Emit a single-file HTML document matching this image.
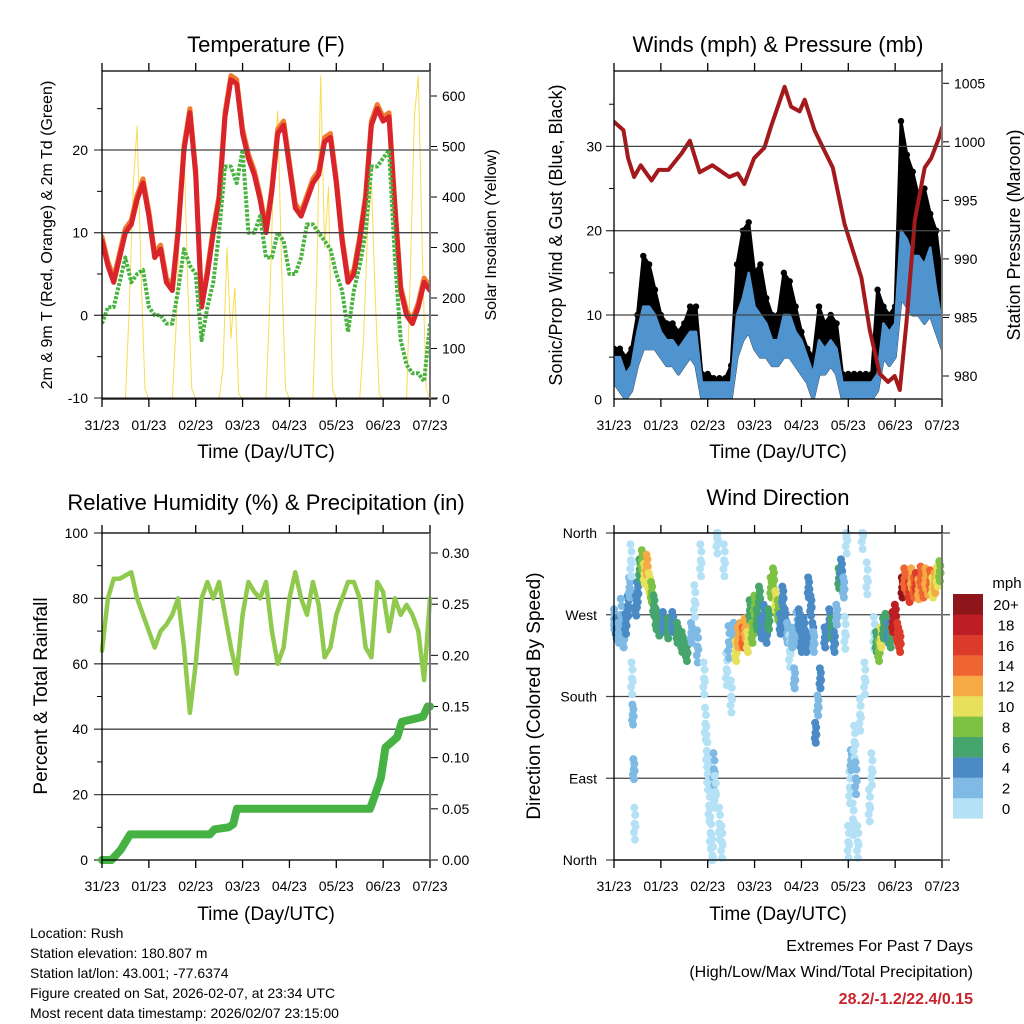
<!DOCTYPE html>
<html><head><meta charset="utf-8"><style>
html,body{margin:0;padding:0;background:#fff}
svg{display:block;font-family:"Liberation Sans",Arial,sans-serif}
</style></head><body>
<svg id="s" width="1024" height="1024" viewBox="0 0 1024 1024"></svg>
<script>
// ---------- DATA ----------
const days = ['31/23','01/23','02/23','03/23','04/23','05/23','06/23','07/23'];
const tempT = [9,6,4,7,10,11,14,16, 12,7,8,4,3,10,20,24.5, 17,1,5,10,14,24,28.5,28, 22,19,17,14,10,15,22,23, 18,13,12,14,16,17,21,21.5, 16,9,4,5,9,14,23,25, 23.5,24,13,3,0,-1,1,4, 3];
const tempTd = [-1,1,1,4,7,4,5,5.5, 1,0,0,-1,-1,3,8,6, 5,-3,1,4,10,18,18,16, 20,10,10,12,7,7,10,9, 5,5,7,11,11,10,9,8, 5,3,-2,3,6,10,18,18, 19,20,7,-3,-6,-7,-7,-8, -1];
const solar = [0,0,0,0,0,0,0,180,420,540,250,20, 0,0,0,0,0,0,0,150,380,500,220,20, 0,0,0,0,0,0,0,60,300,120,220,10, 0,0,0,0,0,0,0,200,470,570,260,20, 0,0,0,0,0,0,0,250,640,300,420,20, 0,0,0,0,0,0,0,120,330,430,200,10, 0,0,0,0,0,0,0,260,560,640,300,20, 0];
const windHi = [5,5,3,4,8,11,11,10, 8,7,7,6,7,8,8,2, 2,2,2,2,2,10,12,15, 11,10,9,7,7,10,10,8, 7,5,3,7,6,7,6,2, 2,2,2,2,2,3,9,8, 9,20,19,17,17,16,18,13, 9];
const windLo = [2,1,0,1,4,6,6,6, 5,4,4,3,4,5,4,0, 0,0,0,0,0,5,7,8, 6,5,5,4,4,5,5,4, 3,2,0,3,3,4,3,0, 0,0,0,0,0,1,5,4, 5,12,11,10,10,9,10,8, 6];
const gust = [6,6,5,6,10,17,16,13, 10,9,9,8,9,11,11,3, 3,2.5,2.5,2.5,4,16,20,21, 15,16,12,10,10,15,14,11, 8,6,5,11,9,10,9,3, 3,3,3,3,3,13,11,10, 11,33,29,27,24,25,22,20, 14];
const presT = [0,0.2,0.3,0.43,0.57,0.8,0.95,1.16,1.44,1.62,1.83,2.1,2.46,2.64,2.78,2.99,3.21,3.35,3.64,3.78,3.96,4.07,4.28,4.46,4.67,4.92,5.28,5.46,5.67,5.85,5.99,6.1,6.24,6.42,6.63,6.77,6.95,7.0];
const presV = [1001.7,1001,998.6,997,998,996.7,997.6,997.6,999,1000.1,997.4,998,997,997.3,996.4,998.6,999.5,1001.3,1004.7,1003,1002.6,1003.6,1001,999.5,997.8,993,988.4,983.9,980.2,979.5,980,978.8,984.5,993.3,997.8,998.6,1000.5,1001.2];
const rh = [64,80,86,86,87,88,80,75, 70,65,70,72,75,80,65,45, 60,80,85,80,85,75,65,57, 75,85,82,80,85,70,60,65, 80,88,80,75,85,78,62,65, 75,80,85,85,80,65,62,85, 82,70,80,75,78,75,70,55, 80];
const rainT = [0,0.2,0.3,0.4,0.6,2.3,2.4,2.7,2.8,2.88,5.72,5.8,5.95,6.05,6.3,6.4,6.85,6.95,7.0];
const rainV = [0,0,0.005,0.01,0.025,0.025,0.03,0.032,0.035,0.05,0.05,0.06,0.08,0.11,0.12,0.135,0.14,0.15,0.15];
const dirT = [0,0.05,0.1,0.15,0.2,0.25,0.3,0.33,0.36,0.38,0.4,0.42,0.44,0.47,0.5,0.55,0.6,0.65,0.7,0.75,0.8,0.85,0.9,0.96,1.05,1.15,1.25,1.35,1.45,1.55,1.65,1.72,1.78,1.85,1.92,1.95,1.98,2.0,2.03,2.06,2.1,2.13,2.16,2.2,2.25,2.3,2.35,2.4,2.45,2.5,2.56,2.6,2.65,2.7,2.75,2.8,2.85,2.9,2.95,3.0,3.05,3.1,3.15,3.2,3.25,3.3,3.35,3.4,3.45,3.5,3.55,3.6,3.65,3.7,3.75,3.8,3.85,3.9,3.95,4.0,4.05,4.1,4.15,4.2,4.24,4.26,4.3,4.35,4.4,4.5,4.6,4.65,4.7,4.75,4.8,4.85,4.9,4.93,4.96,5.0,5.03,5.06,5.1,5.13,5.16,5.2,5.25,5.3,5.35,5.4,5.45,5.5,5.55,5.6,5.65,5.7,5.75,5.8,5.85,5.9,5.95,6.0,6.05,6.1,6.15,6.2,6.25,6.3,6.35,6.4,6.45,6.5,6.55,6.6,6.65,6.7,6.75,6.8,6.85,6.9,6.95,7.0];
const dirD = [265,255,250,270,245,260,280,300,330,200,160,100,40,280,295,320,330,315,325,305,295,280,265,258,262,255,262,250,240,230,250,285,235,330,200,150,120,95,60,30,5,100,75,355,40,20,330,210,240,180,250,230,245,250,245,255,240,275,250,280,265,290,255,270,250,265,300,310,285,275,260,290,265,250,230,245,200,255,265,240,255,240,300,280,250,240,140,170,200,245,265,255,240,270,310,320,300,250,355,20,80,110,45,130,90,20,160,360,200,310,60,100,250,240,230,245,255,260,250,245,262,270,250,240,300,310,305,295,310,300,305,298,312,300,310,303,308,300,305,312,318];
const dirS = [3,4,3,2,3,4,4,3,1,1,3,3,1,5,4,6,9,10,12,10,8,7,6,6,5,6,4,6,7,6,3,1,2,1,1,1,1,1,1,1,1,2,1,1,1,1,1,1,2,1,3,11,13,12,14,13,10,6,8,9,7,6,4,5,4,7,8,9,10,8,5,4,4,3,1,3,3,2,4,5,4,4,5,5,4,3,4,3,4,5,4,6,5,3,6,5,3,1,1,1,1,3,1,1,2,1,1,1,1,1,1,1,1,7,8,10,6,7,5,6,19,18,17,16,20,15,14,17,13,15,16,13,14,15,12,13,14,11,12,10,9];
const spdBins = ['0','2','4','6','8','10','12','14','16','18','20+'];
const spdColors = ['#b5e1f6','#7fbae4','#4a8bc6','#45a56c','#7dc243','#e7e05a','#f6aa45','#ef6531','#dc3a2a','#bd1e25','#8e1519'];

// ---------- HELPERS ----------
const NS='http://www.w3.org/2000/svg', S=document.getElementById('s');
function el(tag, attrs, parent){const e=document.createElementNS(NS,tag);for(const k in attrs)e.setAttribute(k,attrs[k]);(parent||S).appendChild(e);return e;}
function txt(s,x,y,size,anchor,name,extra){const t=el('text',Object.assign({x:x,y:y,'font-size':size,'text-anchor':anchor||'middle',fill:'#000'},extra||{}));t.textContent=s;


return t;}
function lin(d0,d1,r0,r1){return v=>r0+(v-d0)/(d1-d0)*(r1-r0);}
const defs=el('defs',{});
function clipG(id,x0,y0,x1,y1){const cp=el('clipPath',{id:id},defs);el('rect',{x:x0,y:y0,width:x1-x0,height:y1-y0},cp);
const g=el('g',{'clip-path':'url(#'+id+')'});


return g;}
function poly(pts,stroke,w,name,extra,parent){const p=el('polyline',Object.assign({points:pts.map(p=>p[0].toFixed(1)+','+p[1].toFixed(1)).join(' '),fill:'none',stroke:stroke,'stroke-width':w,'stroke-linejoin':'round','stroke-linecap':'round'},extra||{}),parent);


return p;}
function frame(x0,y0,x1,y1,name){
  const xs=lin(0,7,x0,x1);
  for(let i=0;i<8;i++){const X=xs(i);
    el('line',{x1:X,y1:y0-8,x2:X,y2:y0,stroke:'#000','stroke-width':1.3});
    el('line',{x1:X,y1:y1,x2:X,y2:y1+8,stroke:'#000','stroke-width':1.3});
    txt(days[i],X,y1+31,14,'middle',name+'-x-tick-'+i);
  }
  const r=el('rect',{x:x0,y:y0,width:x1-x0,height:y1-y0,fill:'none',stroke:'#000','stroke-width':1.3});
  
  
  el('line',{x1:x1,y1:y0,x2:x1,y2:y1,stroke:'#777','stroke-width':2});
}
function grid(x0,x1,Y,name){const g=el('line',{x1:x0-8,y1:Y,x2:x1+8,y2:Y,stroke:'#444','stroke-width':1.3});

}
const tstep=i=>i*0.125;

// ---------- PANEL 1 ----------
(function(){
  const x0=102,x1=430,y0=71,y1=399;
  const X=lin(0,7,x0,x1), Y=lin(-10,20,398,150), YS=lin(0,600,399,96);
  const G=clipG('temp-clip',x0,y0,x1,y1);
  txt('Temperature (F)',266,52,22,'middle','temperature-title');
  [-10,0,10,20].forEach(v=>{grid(x0,x1,Y(v),'temp-grid-'+v);txt(String(v),x0-14,Y(v)+5,14,'end','temp-y-tick-'+v);});
  [-5,5,15,25].forEach(v=>el('line',{x1:x0-5,y1:Y(v),x2:x0,y2:Y(v),stroke:'#000'}));
  [0,100,200,300,400,500,600].forEach(v=>{el('line',{x1:x1,y1:YS(v),x2:x1+7,y2:YS(v),stroke:'#000'});txt(String(v),x1+12,YS(v)+5,14,'start','solar-y-tick-'+v);});
  poly(solar.map((v,i)=>[X(i/12),YS(v)]),'#f7dc52',1,'solar-line',{},G);
  poly(tempT.map((v,i)=>[X(tstep(i)),Y(v+0.5)]),'#f07b2e',5,'temp-9m-line',{},G);
  poly(tempT.map((v,i)=>[X(tstep(i)),Y(v)]),'#d8242a',5,'temp-2m-line',{},G);
  poly(tempTd.map((v,i)=>[X(tstep(i)),Y(v)]),'#49b340',4,'dewpoint-line',{'stroke-dasharray':'3 1.5','stroke-linecap':'butt'},G);
  frame(x0,y0,x1,y1,'temp');
  txt('Time (Day/UTC)',266,458,19,'middle','temp-x-title');
  txt('2m & 9m T (Red, Orange) & 2m Td (Green)',0,0,16,'middle','temp-y-title',{transform:'translate(52,235) rotate(-90)'});
  txt('Solar Insolation (Yellow)',0,0,16,'middle','solar-y-title',{transform:'translate(496,235) rotate(-90)'});
})();

// ---------- PANEL 2 ----------
(function(){
  const x0=614,x1=942,y0=71,y1=399;
  const X=lin(0,7,x0,x1), Y=lin(0,10,399.3,315), YP=lin(980,1005,376,83.3);
  const G=clipG('wind-clip',x0,y0-6,x1,y1);
  txt('Winds (mph) & Pressure (mb)',778,52,22,'middle','winds-title');
  [0,10,20,30].forEach(v=>{if(v>0)grid(x0,x1,Y(v),'wind-grid-'+v);txt(String(v),x0-12,Y(v)+5,14,'end','wind-y-tick-'+v);});
  [5,15,25,35].forEach(v=>el('line',{x1:x0-5,y1:Y(v),x2:x0,y2:Y(v),stroke:'#000'}));
  [980,985,990,995,1000,1005].forEach(v=>{el('line',{x1:x1,y1:YP(v),x2:x1+7,y2:YP(v),stroke:'#000'});txt(String(v),x1+12,YP(v)+5,14,'start','pres-y-tick-'+v);});
  const n=Math.min(gust.length,windLo.length,windHi.length);
  const gArea=[],wArea=[],lo=[];
  for(let i=0;i<n;i++){gArea.push([X(tstep(i)),Y(gust[i])]);wArea.push([X(tstep(i)),Y(windHi[i])]);lo.push([X(tstep(i)),Y(windLo[i])]);}
  lo.reverse();
  const ga=el('polygon',{points:gArea.concat(lo).map(p=>p.join(',')).join(' '),fill:'#000',stroke:'#000','stroke-width':3,'stroke-linejoin':'round'},G);
  
  
  for(let i=0;i<n;i++){const c=el('circle',{cx:X(tstep(i)),cy:Y(gust[i]),r:3.2,fill:'#000'},G);
    
    }
  const wa=el('polygon',{points:wArea.concat(lo).map(p=>p.join(',')).join(' '),fill:'#4f93cf',stroke:'#4f93cf','stroke-width':2.5,'stroke-linejoin':'round'},G);
  
  
  poly(presT.map((t,i)=>[X(t),YP(presV[i])]),'#a3191c',4,'pressure-line',{},G);
  frame(x0,y0,x1,y1,'wind');
  txt('Time (Day/UTC)',778,458,19,'middle','wind-x-title');
  txt('Sonic/Prop Wind & Gust (Blue, Black)',0,0,18,'middle','wind-y-title',{transform:'translate(562,235) rotate(-90)'});
  txt('Station Pressure (Maroon)',0,0,18,'middle','pres-y-title',{transform:'translate(1020,235) rotate(-90)'});
})();

// ---------- PANEL 3 ----------
(function(){
  const x0=102,x1=430,y0=533,y1=860;
  const X=lin(0,7,x0,x1), Y=lin(0,100,860,533), YR=lin(0,0.30,860,553);
  txt('Relative Humidity (%) & Precipitation (in)',266,510,22,'middle','rh-title');
  [0,20,40,60,80,100].forEach(v=>{if(v>0&&v<100)grid(x0,x1,Y(v),'rh-grid-'+v);txt(String(v),x0-14,Y(v)+5,14,'end','rh-y-tick-'+v);});
  [10,30,50,70,90].forEach(v=>el('line',{x1:x0-5,y1:Y(v),x2:x0,y2:Y(v),stroke:'#000'}));
  el('line',{x1:x0-8,y1:Y(100),x2:x0,y2:Y(100),stroke:'#000'});
  el('line',{x1:x0-8,y1:Y(0),x2:x0,y2:Y(0),stroke:'#000'});
  [0,0.05,0.10,0.15,0.20,0.25,0.30].forEach(v=>{el('line',{x1:x1,y1:YR(v),x2:x1+8,y2:YR(v),stroke:'#000'});txt(v.toFixed(2),x1+12,YR(v)+5,14,'start','rain-y-tick-'+v);});
  poly(rh.map((v,i)=>[X(tstep(i)),Y(v)]),'#8fca4f',4.5,'rh-line');
  poly(rainT.map((t,i)=>[X(t),YR(rainV[i])]),'#47b244',8,'rain-line');
  frame(x0,y0,x1,y1,'rh');
  txt('Time (Day/UTC)',266,920,19,'middle','rh-x-title');
  txt('Percent & Total Rainfall',0,0,19,'middle','rh-y-title',{transform:'translate(47,696) rotate(-90)'});
})();

// ---------- PANEL 4 ----------
(function(){
  const x0=614,x1=942,y0=533,y1=860;
  const X=lin(0,7,x0,x1), Y=lin(0,360,860,533);
  txt('Wind Direction',778,505,22,'middle','direction-title');
  [['North',0],['East',90],['South',180],['West',270],['North',360]].forEach(([nm,v])=>{grid(x0,x1,Y(v),'dir-grid-'+v);txt(nm,x0-17,Y(v)+5,14,'end','dir-y-tick-'+v);});
  const offs=[[0,0],[0.014,6],[-0.014,-6],[0.007,-11],[-0.007,11],[0.02,-2]];
  const n=Math.min(dirT.length,dirD.length,dirS.length);
  for(let i=0;i<n;i++){
    const b=Math.min(10,Math.floor(dirS[i]/2));
    offs.forEach(o=>{const d=Math.max(0,Math.min(360,dirD[i]+(dirS[i]>2?o[1]:o[1]*1.6)));
      const c=el('circle',{cx:X(Math.min(7,Math.max(0,dirT[i]+o[0]))),cy:Y(d),r:4,fill:spdColors[b]});
      
      });
  }
  frame(x0,y0,x1,y1,'dir');
  txt('Time (Day/UTC)',778,920,19,'middle','dir-x-title');
  txt('Direction (Colored By Speed)',0,0,19,'middle','dir-y-title',{transform:'translate(540,696) rotate(-90)'});
  txt('mph',1007,588,15,'middle','colorbar-title');
  for(let k=0;k<11;k++){const yy=594+(10-k)*20.4;
    const r=el('rect',{x:953,y:yy,width:30,height:20.6,fill:spdColors[k]});
    
    
    txt(spdBins[k],1006,yy+16,15,'middle','colorbar-label-'+spdBins[k]);
  }
})();

// ---------- FOOTER ----------
['Location: Rush','Station elevation: 180.807 m','Station lat/lon: 43.001; -77.6374','Figure created on Sat, 2026-02-07, at 23:34 UTC','Most recent data timestamp: 2026/02/07 23:15:00'].forEach((s,i)=>txt(s,30,938+i*20,14,'start','footer-line-'+i));
txt('Extremes For Past 7 Days',973,951,16,'end','extremes-title');
txt('(High/Low/Max Wind/Total Precipitation)',973,977,16,'end','extremes-subtitle');
txt('28.2/-1.2/22.4/0.15',973,1004,16,'end','extremes-values',{fill:'#c8232b','font-weight':'bold'});
</script>
</body></html>
